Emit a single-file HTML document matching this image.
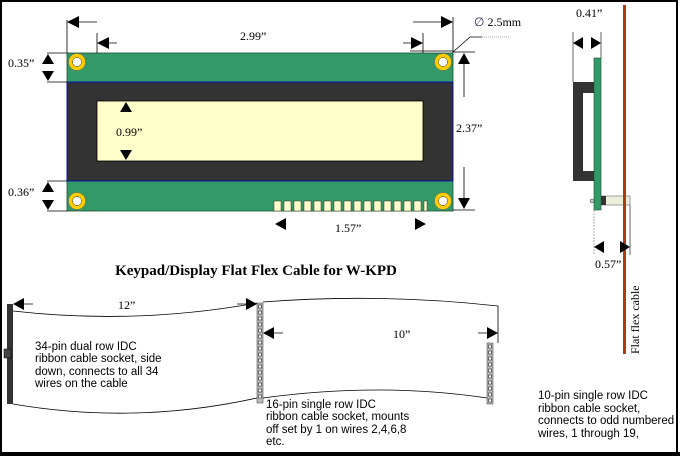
<!DOCTYPE html>
<html><head><style>
html,body{margin:0;padding:0;background:#fff;}
svg{display:block;}
.s{font-family:"Liberation Serif",serif;font-size:12px;fill:#000;}
.a{font-family:"Liberation Sans",sans-serif;font-size:11.5px;fill:#000;}
</style></head><body>
<svg width="680" height="456" viewBox="0 0 680 456" xmlns="http://www.w3.org/2000/svg">
<rect x="1" y="1" width="676" height="452" fill="#fff" stroke="#000" stroke-width="2"/>
<rect x="0" y="452" width="680" height="4" fill="#000"/>
<!-- board -->
<rect x="67" y="53" width="386" height="158" fill="#339966" stroke="#1a4d33" stroke-width="0.8"/>
<rect x="67" y="82" width="386" height="99" fill="#333" stroke="#0000cc" stroke-width="0.8"/>
<rect x="97" y="101" width="326" height="60" fill="#ffffcc" stroke="#000" stroke-width="0.8"/>
<g fill="#ffcc00" stroke="#666" stroke-width="0.5">
<circle cx="77" cy="62" r="8.5"/><circle cx="443" cy="62" r="8.5"/><circle cx="77" cy="201" r="8.5"/><circle cx="443" cy="201" r="8.5"/></g>
<g fill="#fff" stroke="#333" stroke-width="0.5">
<circle cx="77" cy="62" r="4.5"/><circle cx="443" cy="62" r="4.5"/><circle cx="77" cy="201" r="4.5"/><circle cx="443" cy="201" r="4.5"/></g>
<g fill="#ffffcc" stroke="#333" stroke-width="0.5">
<rect x="274" y="201" width="7" height="10"/><rect x="284" y="201" width="7" height="10"/><rect x="294" y="201" width="7" height="10"/><rect x="304" y="201" width="7" height="10"/><rect x="314" y="201" width="7" height="10"/><rect x="324" y="201" width="7" height="10"/><rect x="334" y="201" width="7" height="10"/><rect x="344" y="201" width="7" height="10"/><rect x="354" y="201" width="7" height="10"/><rect x="364" y="201" width="7" height="10"/><rect x="374" y="201" width="7" height="10"/><rect x="384" y="201" width="7" height="10"/><rect x="394" y="201" width="7" height="10"/><rect x="404" y="201" width="7" height="10"/><rect x="414" y="201" width="7" height="10"/><rect x="424" y="201" width="3" height="10"/></g>
<!-- dims -->
<g stroke="#000" stroke-width="0.8" fill="none">
<path d="M67 20V53M453 17V53M97 33V53M423 33V53M73 22H97M413 22H447M103 43H117M403 43H417"/>
<path d="M47 53H67M47 82H67M47 181H67M47 211H67M453 52H475M453 210H475M464 62V97M464 167V200"/>
<path d="M410 51H453M453 52L470 37H482"/>
</g>
<path d="M472 37H510" stroke="#555" stroke-width="0.6" stroke-dasharray="1 1"/>
<g fill="#000">
<path d="M67 22l12-6v12zM453 22l-12-6v12zM97 43l12-6v12zM423 43l-12-6v12z"/>
<path d="M48 54l-6 10h12zM48 81l-6-10h12zM48 182l-6 10h12zM48 210l-6-10h12z"/>
<path d="M464 53l-6 11h12zM464 209l-6-11h12z"/>
<path d="M126 102l-6 10h12zM126 160l-6-10h12z"/>
<path d="M275 224l11-6v12zM426 224l-11-6v12z"/>
</g>
<text class="s" x="240" y="40" font-size="14">2.99”</text>
<text class="s" x="8" y="67">0.35”</text>
<text class="s" x="8" y="196">0.36”</text>
<text class="s" x="456" y="132">2.37”</text>
<text class="s" x="116" y="136">0.99”</text>
<text class="s" x="335" y="232" font-size="14">1.57”</text>
<text class="s" x="474" y="26" font-size="14"><tspan fill="#336">∅</tspan> 2.5mm</text>
<!-- side view -->
<rect x="573" y="82" width="21" height="99" fill="#333"/>
<rect x="583" y="93" width="11" height="78" fill="#fff"/>
<rect x="594" y="58" width="7" height="152" fill="#339966" stroke="#1a4d33" stroke-width="0.6"/>
<rect x="601" y="196" width="29" height="9" fill="#eeeedd" stroke="#666" stroke-width="0.6"/>
<rect x="601" y="196" width="5" height="9" fill="#333"/>
<circle cx="592" cy="201" r="2" fill="#ccc" stroke="#333" stroke-width="0.5"/>
<rect x="623" y="5" width="3" height="349" fill="#b03a0a"/>
<g stroke="#000" stroke-width="0.6">
<path d="M573 32V82M601 32V58M630 205V255"/>
<path d="M594 210V255" stroke-dasharray="2 1" stroke="#777"/>
</g>
<g fill="#000">
<path d="M573 43l10-6v12zM601 43l-10-6v12zM594 247l10-6v12zM630 247l-10-6v12z"/>
</g>
<text class="s" x="576" y="17">0.41”</text>
<text class="s" x="595" y="268">0.57”</text>
<text class="s" x="0" y="0" font-size="13" transform="translate(639,354) rotate(-90)">Flat flex cable</text>
<!-- title -->
<text x="256" y="275" text-anchor="middle" font-family="Liberation Serif,serif" font-weight="bold" font-size="15">Keypad/Display Flat Flex Cable for W-KPD</text>
<!-- cable -->
<g stroke="#000" stroke-width="0.8" fill="none">
<path d="M13 311Q135 325 257 303"/>
<path d="M13 404Q135 425 257 398"/>
<path d="M263 302Q380 293 498 306V343"/>
<path d="M263 398Q380 382 487 398"/>
<path d="M19 304H33M237 304H250M269 333H283M478 333H492"/>
</g>
<g fill="#000">
<path d="M13 304l11-6v12zM257 304l-11-6v12zM263 333l11-6v12zM498 333l-11-6v12z"/>
</g>
<rect x="7" y="304" width="6" height="100" fill="#333"/>
<rect x="4" y="349" width="7" height="9" fill="#444" stroke="#000" stroke-width="0.5"/>
<rect x="257" y="303" width="6" height="100" fill="#bbb" stroke="#333" stroke-width="0.5"/>
<rect x="487" y="343" width="6" height="61" fill="#bbb" stroke="#333" stroke-width="0.5"/>
<g fill="#fff" stroke="#000" stroke-width="0.5">
<rect x="258.5" y="305" width="3" height="3"/><rect x="258.5" y="311" width="3" height="3"/><rect x="258.5" y="317" width="3" height="3"/><rect x="258.5" y="323" width="3" height="3"/><rect x="258.5" y="329" width="3" height="3"/><rect x="258.5" y="335" width="3" height="3"/><rect x="258.5" y="341" width="3" height="3"/><rect x="258.5" y="347" width="3" height="3"/><rect x="258.5" y="353" width="3" height="3"/><rect x="258.5" y="359" width="3" height="3"/><rect x="258.5" y="365" width="3" height="3"/><rect x="258.5" y="371" width="3" height="3"/><rect x="258.5" y="377" width="3" height="3"/><rect x="258.5" y="383" width="3" height="3"/><rect x="258.5" y="389" width="3" height="3"/><rect x="258.5" y="395" width="3" height="3"/>
<rect x="488.5" y="345" width="3" height="3"/><rect x="488.5" y="351" width="3" height="3"/><rect x="488.5" y="357" width="3" height="3"/><rect x="488.5" y="363" width="3" height="3"/><rect x="488.5" y="369" width="3" height="3"/><rect x="488.5" y="375" width="3" height="3"/><rect x="488.5" y="381" width="3" height="3"/><rect x="488.5" y="387" width="3" height="3"/><rect x="488.5" y="393" width="3" height="3"/><rect x="488.5" y="399" width="3" height="3"/>
</g>
<text class="s" x="118" y="309" font-size="12">12”</text>
<text class="s" x="393" y="338" font-size="12">10”</text>
<g class="a">
<text x="35" y="350">34-pin dual row IDC</text>
<text x="35" y="362">ribbon cable socket, side</text>
<text x="35" y="375">down, connects to all 34</text>
<text x="35" y="387">wires on the cable</text>
<text x="266" y="408">16-pin single row IDC</text>
<text x="266" y="420">ribbon cable socket, mounts</text>
<text x="266" y="433">off set by 1 on wires 2,4,6,8</text>
<text x="266" y="445">etc.</text>
<text x="538" y="399">10-pin single row IDC</text>
<text x="538" y="412">ribbon cable socket,</text>
<text x="538" y="424">connects to odd numbered</text>
<text x="538" y="437">wires, 1 through 19,</text>
</g>
</svg>
</body></html>
